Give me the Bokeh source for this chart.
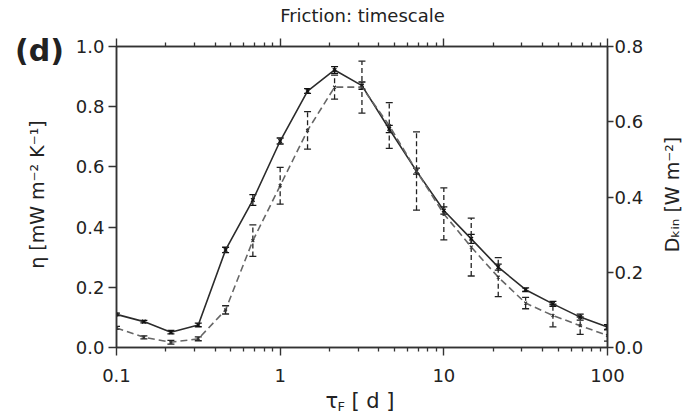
import numpy as np
from bokeh.plotting import figure
from bokeh.models import (LinearAxis, LogAxis, Range1d, FixedTicker, Whisker, ColumnDataSource,
                          Label, TeeHead, PrintfTickFormatter, CustomJSTickFormatter)
from bokeh.embed import file_html
from bokeh.resources import INLINE

# ---- data ----
tau = [0.1, 0.147, 0.215, 0.316, 0.464, 0.681, 1.0, 1.47, 2.15, 3.16,
       4.64, 6.81, 10.0, 14.7, 21.5, 31.6, 46.4, 68.1, 100.0]
eta = [0.110, 0.086, 0.051, 0.075, 0.324, 0.490, 0.686, 0.852, 0.922, 0.870,
       0.726, 0.586, 0.455, 0.361, 0.267, 0.192, 0.145, 0.101, 0.068]
eta_err = [0.004, 0.004, 0.006, 0.006, 0.009, 0.018, 0.010, 0.008, 0.011, 0.012,
           0.012, 0.010, 0.012, 0.015, 0.010, 0.006, 0.008, 0.010, 0.008]
dkin = [0.052, 0.027, 0.014, 0.023, 0.100, 0.284, 0.430, 0.577, 0.692, 0.692,
        0.590, 0.469, 0.355, 0.267, 0.187, 0.118, 0.085, 0.058, 0.032]
dkin_err = [0.004, 0.004, 0.005, 0.005, 0.011, 0.042, 0.049, 0.050, 0.032, 0.069,
            0.061, 0.104, 0.069, 0.077, 0.052, 0.015, 0.030, 0.023, 0.015]

x_ticks = [0.1, 1, 10, 100]
x_minor = [0.2, 0.3, 0.4, 0.5, 0.6, 0.7, 0.8, 0.9,
           2, 3, 4, 5, 6, 7, 8, 9,
           20, 30, 40, 50, 60, 70, 80, 90]
left_ticks = [0.0, 0.2, 0.4, 0.6, 0.8, 1.0]
right_ticks = [0.0, 0.2, 0.4, 0.6, 0.8]

title_text = "Friction: timescale"
panel_text = "(d)"
ylabel_left = "η [mW m⁻² K⁻¹]"
ylabel_right = "Dₖᵢₙ [W m⁻²]"
xlabel_main = "τ\u00a0\u00a0[ d ]"
xlabel_sub = "F"

FONT = "DejaVu Sans"
AX = "#333333"
TXT = "#222222"

W, H = 692, 415
B_LEFT, B_RIGHT, B_TOP, B_BOTTOM = 116, 85, 46, 68
TOP_TICK = 8

e = np.array(eta); ee = np.array(eta_err)
d = np.array(dkin); de = np.array(dkin_err)
src = ColumnDataSource(dict(tau=tau, eta=eta, eta_up=e + ee, eta_lo=e - ee,
                            dkin=dkin, d_up=d + de, d_lo=d - de))

p = figure(width=W, height=H, x_axis_type="log",
           x_range=Range1d(0.1, 100), y_range=Range1d(0, 1.0),
           output_backend="svg", toolbar_location=None, title_location=None,
           min_border_left=B_LEFT, min_border_right=B_RIGHT,
           min_border_top=B_TOP, min_border_bottom=B_BOTTOM)
p.extra_y_ranges = {"dkin": Range1d(0, 0.8)}
p.xgrid.visible = False
p.ygrid.visible = False
p.outline_line_color = AX
p.outline_line_width = 1.5

def style_axis(ax, standoff, major_out=8, minor_out=0):
    ax.axis_line_color = AX
    ax.axis_line_width = 1.5
    ax.major_tick_line_color = AX
    ax.major_tick_line_width = 1.4
    ax.minor_tick_line_color = AX
    ax.minor_tick_line_width = 1.3
    ax.major_tick_in = 0
    ax.major_tick_out = major_out
    ax.minor_tick_in = 0
    ax.minor_tick_out = minor_out
    ax.major_label_standoff = standoff
    ax.major_label_text_font = FONT
    ax.major_label_text_font_size = "18px"
    ax.major_label_text_color = TXT

# bottom axis
xb = p.xaxis[0]
xb.ticker = FixedTicker(ticks=x_ticks, minor_ticks=x_minor)
xb.formatter = CustomJSTickFormatter(code="return tick.toString();")
style_axis(xb, 13, major_out=8, minor_out=4)

# top axis (ticks only)
xt = LogAxis(ticker=FixedTicker(ticks=x_ticks, minor_ticks=x_minor),
             formatter=CustomJSTickFormatter(code="return '';"))
style_axis(xt, 0, major_out=TOP_TICK, minor_out=4)
xt.major_label_text_font_size = "0px"
p.add_layout(xt, "above")

# left axis
yl = p.yaxis[0]
yl.ticker = FixedTicker(ticks=left_ticks, minor_ticks=[])
yl.formatter = PrintfTickFormatter(format="%.1f")
style_axis(yl, 4, major_out=8)

# right axis
yr = LinearAxis(y_range_name="dkin",
                ticker=FixedTicker(ticks=right_ticks, minor_ticks=[]),
                formatter=PrintfTickFormatter(format="%.1f"))
style_axis(yr, 1, major_out=6)
p.add_layout(yr, "right")

# series: eta (solid, left axis)
p.line("tau", "eta", source=src, line_color="#2b2b2b", line_width=1.6)
p.scatter("tau", "eta", source=src, marker="x", size=5, line_color="#111111", line_width=1.4)
p.add_layout(Whisker(source=src, base="tau", upper="eta_up", lower="eta_lo",
                     line_color="#111111", line_width=1.3,
                     upper_head=TeeHead(size=7, line_color="#111111", line_width=1.3),
                     lower_head=TeeHead(size=7, line_color="#111111", line_width=1.3)))

# series: D_kin (dashed, right axis)
p.line("tau", "dkin", source=src, y_range_name="dkin", line_color="#666666",
       line_width=1.6, line_dash="7 4")
p.scatter("tau", "dkin", source=src, y_range_name="dkin", marker="x", size=4,
          line_color="#333333", line_width=1.2)
p.add_layout(Whisker(source=src, base="tau", upper="d_up", lower="d_lo",
                     y_range_name="dkin",
                     line_color="#222222", line_width=1.3, line_dash="5 3",
                     upper_head=TeeHead(size=7, line_color="#222222", line_width=1.3),
                     lower_head=TeeHead(size=7, line_color="#222222", line_width=1.3)))

# texts, placed in the side panels (screen offsets from each panel's origin)
def lab(place, text, sx, sy, size, angle=0.0, align="center", baseline="middle", style="normal"):
    p.add_layout(Label(x=sx, y=sy, x_units="screen", y_units="screen", text=text,
                       text_font=FONT, text_font_size=size, text_color=TXT,
                       text_align=align, text_baseline=baseline, angle=angle,
                       text_font_style=style), place)

lab("above", xlabel_sub, 221, -360 - TOP_TICK, "13px", align="left")
lab("above", title_text, 246, 16 - TOP_TICK, "18px")
lab("left", ylabel_left, -14, 153, "19px", angle=np.pi / 2)
lab("left", panel_text, 38, 297, "30px", style="bold")
lab("right", ylabel_right, 25, 153, "19px", angle=np.pi / 2)
lab("below", xlabel_main, 209, 8, "21px", align="left")

open("out.html", "w").write(file_html(p, INLINE))
